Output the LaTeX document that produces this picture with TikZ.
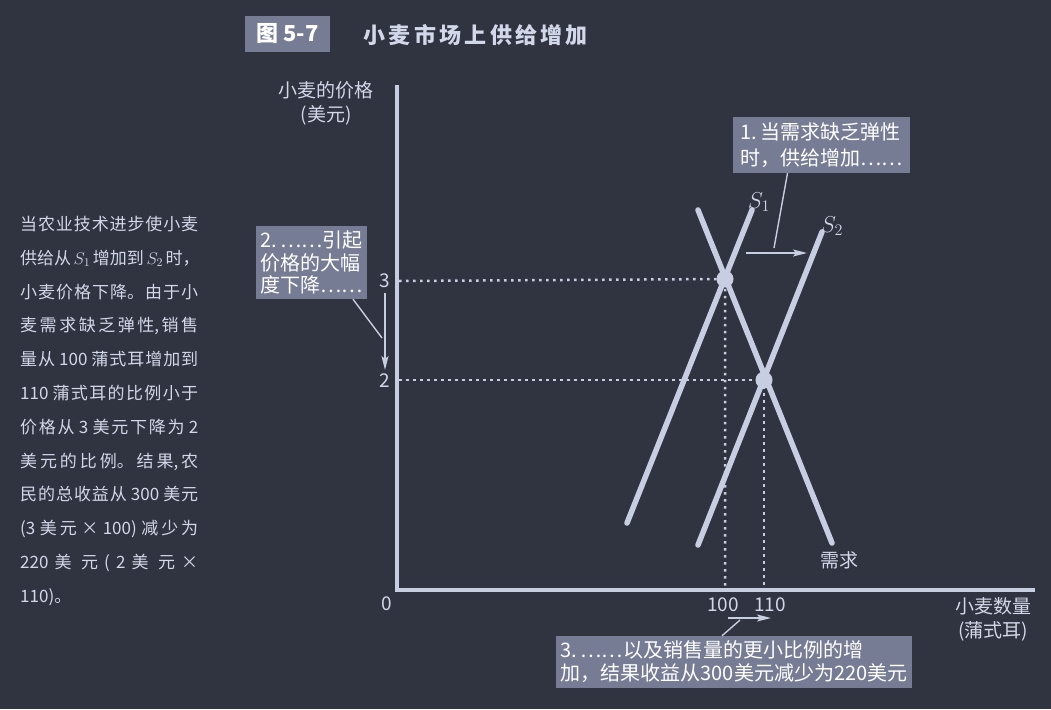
\RequirePackage{fix-cm}
\documentclass[tikz,border=0pt]{standalone}
\usepackage{fontspec}
\setmainfont{Noto Sans CJK SC}
\usetikzlibrary{positioning,arrows.meta,calc}
\definecolor{bg}{RGB}{48,51,64}
\definecolor{ln}{RGB}{200,206,225}
\definecolor{tx}{RGB}{210,215,233}
\definecolor{boxfill}{RGB}{118,124,148}
\tikzset{>={Stealth[length=14pt,width=7pt,inset=3pt]},
axisline/.style={draw=ln,line width=3.2pt,line join=miter},
curveline/.style={draw=ln,line width=5.5pt,line cap=round},
guideline/.style={draw=ln,line width=2.5pt,dash pattern=on 2.5pt off 4.5pt},
eq/.style={circle,fill=ln,minimum size=17pt,inner sep=0pt},
notebox/.style={fill=boxfill,text=white,font=\fontsize{20}{26}\selectfont,align=left,inner sep=3pt},
leader/.style={draw=ln,line width=1.4pt},
movearrow/.style={draw=ln,line width=1.8pt,->},
lbl/.style={text=tx,font=\fontsize{19}{24}\selectfont},
}
\begin{document}
\begin{tikzpicture}[x=1pt,y=-1pt]
\useasboundingbox (0,0) rectangle (1051,709);
\fill[bg] (0,0) rectangle (1051,709);

% title
\node[notebox,minimum width=85pt,minimum height=36pt,align=center,font=\bfseries\fontsize{22}{22}\selectfont] (fig) at (287.5,34) {图 5-7};
\node[lbl,anchor=west,font=\bfseries\fontsize{22}{22}\selectfont\addfontfeature{LetterSpace=15}] (title) at (360,35) {小麦市场上供给增加};

% explanation
\node[text=tx,anchor=north west,text width=178pt,align=justify,inner sep=0pt,font=\fontsize{17}{33.8}\selectfont] (expl) at (20,216) {%
\XeTeXlinebreaklocale "zh"\XeTeXlinebreakskip=0pt plus 8pt\XeTeXlinebreakpenalty=10000
当农业技术进步使小麦\linebreak
供给从~$S_1$~增加到~$S_2$~时，\linebreak
小麦价格下降。由于小\linebreak
麦需求缺乏弹性,销售\linebreak
量从~100~蒲式耳增加到\linebreak
110~蒲式耳的比例小于\linebreak
价格从~3~美元下降为~2\linebreak
美元的比例。结果,农\linebreak
民的总收益从~300~美元\linebreak
(3~美元~×~100)~减少为\linebreak
220~美元~(~2~美元~×\linebreak
110)。};

% axes
\coordinate (ytop) at (397,85);
\coordinate (O) at (397,590);
\coordinate (xend) at (1035,590);
\draw[axisline] (ytop) -- (O) -- (xend);
\node[lbl,align=center] (ylab) at (326,103) {小麦的价格\\(美元)};
\node[lbl,align=center] (xlab) at (993,619) {小麦数量\\(蒲式耳)};
\node[lbl] (t3) at (385,281) {3};
\node[lbl] (t2) at (385,381) {2};
\node[lbl] (t0) at (387,604) {0};
\node[lbl] (q100) at (723,605) {100};
\node[lbl] (q110) at (770,605) {110};

% equilibria and guides
\coordinate (e1) at (725,279);
\coordinate (e2) at (764,380);
\coordinate (y3) at (399,281);
\coordinate (y2) at (399,380);
\coordinate (x1) at (725,588);
\coordinate (x2) at (764,588);
\draw[guideline] (y3) -- (e1) -- (x1);
\draw[guideline] (y2) -- (e2) -- (x2);

% curves
\coordinate (s1a) at (627,523);
\coordinate (s1b) at (752,210);
\coordinate (s2a) at (698,545);
\coordinate (s2b) at (822,232);
\coordinate (da) at (698,210);
\coordinate (db) at (832,543);
\draw[curveline] (s1a) -- (s1b);
\draw[curveline] (s2a) -- (s2b);
\draw[curveline] (da) -- (db);
\node[eq] (E1) at (e1) {};
\node[eq] (E2) at (e2) {};
\node[lbl,font=\fontsize{23}{24}\selectfont] (s1lab) at (759,202) {$S_1$};
\node[lbl,font=\fontsize{23}{24}\selectfont] (s2lab) at (832,226) {$S_2$};
\node[lbl] (dlab) at (839,560) {需求};

% notes
\node[notebox,minimum width=177pt,minimum height=56pt] (n1) at (821.5,145) {1.\,当需求缺乏弹性\\时，供给增加……};
\node[notebox,minimum width=111pt,minimum height=73pt,font=\fontsize{20}{22.5}\selectfont] (n2) at (311.5,262.5) {2.\,……引起\\价格的大幅\\度下降……};
\node[notebox,minimum width=356pt,minimum height=52pt,font=\fontsize{20}{23}\selectfont] (n3) at (734,662) {3.\,……以及销售量的更小比例的增\\加，结果收益从300美元减少为220美元};

% leaders and shift arrows
\coordinate (l1) at (774,248);
\coordinate (a1s) at (746,253);
\coordinate (a1e) at (807,253);
\draw[leader] ([xshift=-34pt]n1.south) -- (l1);
\draw[movearrow] (a1s) -- (a1e);
\coordinate (l2) at (382,338);
\coordinate (a2s) at (385,293);
\coordinate (a2e) at (385,370);
\draw[leader] ([xshift=41.5pt]n2.south) -- (l2);
\draw[movearrow] (a2s) -- (a2e);
\coordinate (l3) at (740,620);
\coordinate (a3s) at (728,618);
\coordinate (a3e) at (771,618);
\draw[leader] ([xshift=-12pt]n3.north) -- (l3);
\draw[movearrow] (a3s) -- (a3e);
\end{tikzpicture}
\end{document}
